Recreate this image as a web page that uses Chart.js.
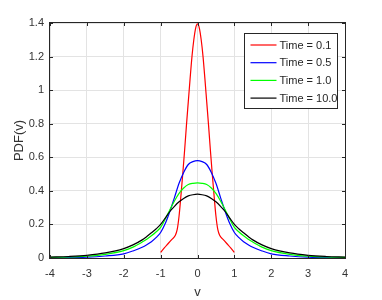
<!DOCTYPE html>
<html>
<head>
<meta charset="utf-8">
<script src="https://cdn.jsdelivr.net/npm/chart.js@4.4.0/dist/chart.umd.min.js"></script>
<style>
  html, body { margin: 0; padding: 0; background: #ffffff; }
  #caja { width: 382px; height: 300px; }
</style>
</head>
<body>
<div id="caja"><canvas id="grafica" width="382" height="300"></canvas></div>
<script>
// Datos
var etiquetas = ['Time = 0.1', 'Time = 0.5', 'Time = 1.0', 'Time = 10.0'];
var colores = ['#ff0000', '#0000ff', '#00ff00', '#000000'];

var xTicks = [-4, -3, -2, -1, 0, 1, 2, 3, 4];
var xTickLabels = ['-4', '-3', '-2', '-1', '0', '1', '2', '3', '4'];
var yTicks = [0, 0.2, 0.4, 0.6, 0.8, 1, 1.2, 1.4];
var yTickLabels = ['0', '0.2', '0.4', '0.6', '0.8', '1', '1.2', '1.4'];

// Time = 0.1 (solo entre -1 y 1)
var vRojo = [-1, -0.9, -0.8, -0.7, -0.6, -0.55, -0.5, -0.45, -0.4, -0.35, -0.3, -0.25, -0.2, -0.15, -0.1, -0.05, 0,
             0.05, 0.1, 0.15, 0.2, 0.25, 0.3, 0.35, 0.4, 0.45, 0.5, 0.55, 0.6, 0.7, 0.8, 0.9, 1];
var pdfRojo = [0.033, 0.06, 0.085, 0.11, 0.135, 0.17, 0.25, 0.37, 0.50, 0.64, 0.79, 0.93, 1.07, 1.20, 1.30, 1.37, 1.395,
               1.37, 1.30, 1.20, 1.07, 0.93, 0.79, 0.64, 0.50, 0.37, 0.25, 0.17, 0.135, 0.11, 0.085, 0.06, 0.033];

// Time = 0.5, 1.0, 10.0
var vComun = [-4, -3.5, -3, -2.5, -2, -1.75, -1.5, -1.375, -1.25, -1.125, -1, -0.875, -0.75, -0.625, -0.5, -0.375, -0.25, -0.125, 0,
              0.125, 0.25, 0.375, 0.5, 0.625, 0.75, 0.875, 1, 1.125, 1.25, 1.375, 1.5, 1.75, 2, 2.5, 3, 3.5, 4];
var pdfAzul = [0.002, 0.003, 0.005, 0.012, 0.025, 0.042, 0.064, 0.079, 0.097, 0.121, 0.152, 0.205, 0.277, 0.36, 0.445, 0.51, 0.557, 0.574, 0.58,
               0.574, 0.557, 0.51, 0.445, 0.36, 0.277, 0.205, 0.152, 0.121, 0.097, 0.079, 0.064, 0.042, 0.025, 0.012, 0.005, 0.003, 0.002];
var pdfVerde = [0.004, 0.006, 0.011, 0.022, 0.044, 0.065, 0.095, 0.112, 0.132, 0.155, 0.182, 0.232, 0.287, 0.34, 0.385, 0.417, 0.438, 0.445, 0.447,
                0.445, 0.438, 0.417, 0.385, 0.34, 0.287, 0.232, 0.182, 0.155, 0.132, 0.112, 0.095, 0.065, 0.044, 0.022, 0.011, 0.006, 0.004];
var pdfNegro = [0.005, 0.009, 0.016, 0.030, 0.056, 0.078, 0.108, 0.128, 0.150, 0.173, 0.200, 0.238, 0.277, 0.308, 0.335, 0.355, 0.370, 0.377, 0.380,
                0.377, 0.370, 0.355, 0.335, 0.308, 0.277, 0.238, 0.200, 0.173, 0.150, 0.128, 0.108, 0.078, 0.056, 0.030, 0.016, 0.009, 0.005];

function juntar(xs, ys) {
  return xs.map(function (x, i) { return { x: x, y: ys[i] }; });
}

var series = [juntar(vRojo, pdfRojo), juntar(vComun, pdfAzul), juntar(vComun, pdfVerde), juntar(vComun, pdfNegro)];

var colorEje = '#262626';
var fuente = 'Liberation Sans, Arial, Helvetica, sans-serif';

// Marco, marcas interiores y leyenda estilo MATLAB
var marcoPlugin = {
  id: 'marco',
  afterDraw: function (chart) {
    var ctx = chart.ctx;
    var a = chart.chartArea;
    var xs = chart.scales.x;
    var ys = chart.scales.y;
    ctx.save();
    ctx.strokeStyle = colorEje;
    ctx.lineWidth = 1;
    ctx.strokeRect(a.left - 0.5, a.top - 0.5, a.right - a.left + 1, a.bottom - a.top + 1);

    ctx.beginPath();
    xTicks.forEach(function (v) {
      var px = Math.round(xs.getPixelForValue(v)) + 0.5;
      ctx.moveTo(px, a.bottom); ctx.lineTo(px, a.bottom - 3);
      ctx.moveTo(px, a.top); ctx.lineTo(px, a.top + 3);
    });
    yTicks.forEach(function (v) {
      var py = Math.round(ys.getPixelForValue(v)) + 0.5;
      ctx.moveTo(a.left, py); ctx.lineTo(a.left + 3, py);
      ctx.moveTo(a.right, py); ctx.lineTo(a.right - 3, py);
    });
    ctx.stroke();

    // leyenda
    var ancho = 93, alto = 75;
    var bx = Math.round(a.right - 8 - ancho) + 0.5;
    var by = Math.round(a.top + 10) + 0.5;
    ctx.fillStyle = '#ffffff';
    ctx.fillRect(bx, by, ancho, alto);
    ctx.strokeStyle = colorEje;
    ctx.strokeRect(bx, by, ancho, alto);
    ctx.font = '11px ' + fuente;
    ctx.textBaseline = 'middle';
    ctx.textAlign = 'left';
    etiquetas.forEach(function (txt, i) {
      var y = by + 11.5 + i * 17.7;
      ctx.strokeStyle = colores[i];
      ctx.lineWidth = 1.2;
      ctx.beginPath();
      ctx.moveTo(bx + 6, y); ctx.lineTo(bx + 32, y);
      ctx.stroke();
      ctx.fillStyle = colorEje;
      ctx.fillText(txt, bx + 35, y + 0.5);
    });
    ctx.restore();
  }
};

var datasets = series.map(function (d, i) {
  return {
    label: etiquetas[i],
    data: d,
    borderColor: colores[i],
    borderWidth: 1.2,
    pointRadius: 0,
    fill: false,
    cubicInterpolationMode: 'monotone',
    order: 4 - i
  };
});

new Chart(document.getElementById('grafica').getContext('2d'), {
  type: 'line',
  data: { datasets: datasets },
  options: {
    responsive: false,
    animation: false,
    layout: { padding: { left: 0, top: 23, right: 37, bottom: 0 } },
    plugins: { legend: { display: false }, tooltip: { enabled: false } },
    scales: {
      x: {
        type: 'linear',
        min: -4, max: 4,
        afterFit: function (s) { s.height = 42; },
        afterBuildTicks: function (s) { s.ticks = xTicks.map(function (v) { return { value: v }; }); },
        ticks: {
          padding: 9,
          color: '#333333',
          font: { family: fuente, size: 11 },
          maxRotation: 0,
          callback: function (v) { return xTickLabels[xTicks.indexOf(v)]; }
        },
        grid: { color: '#e3e3e3', drawTicks: false },
        border: { display: false },
        title: { display: true, text: 'v', color: '#333333', font: { family: fuente, size: 13 }, padding: { top: 0, bottom: 0 } }
      },
      y: {
        type: 'linear',
        min: 0, max: 1.4,
        afterFit: function (s) { s.width = 50; },
        afterBuildTicks: function (s) { s.ticks = yTicks.map(function (v) { return { value: v }; }); },
        ticks: {
          padding: 6,
          color: '#333333',
          font: { family: fuente, size: 11 },
          callback: function (v) { return yTickLabels[yTicks.indexOf(v)]; }
        },
        grid: { color: '#e3e3e3', drawTicks: false },
        border: { display: false },
        title: { display: true, text: 'PDF(v)', color: '#333333', font: { family: fuente, size: 13 }, padding: { top: 12, bottom: 0 } }
      }
    }
  },
  plugins: [marcoPlugin]
});
</script>
</body>
</html>
